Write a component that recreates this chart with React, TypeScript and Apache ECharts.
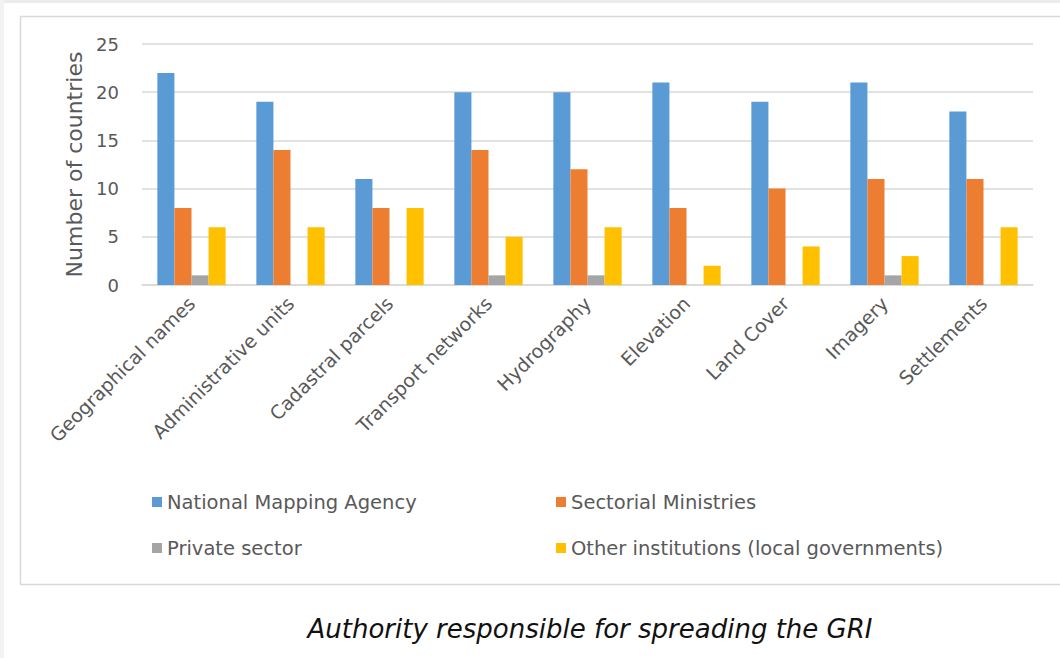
import React, { useEffect, useRef } from "react";
import * as echarts from "echarts";

const categories = [
  "Geographical names",
  "Administrative units",
  "Cadastral parcels",
  "Transport networks",
  "Hydrography",
  "Elevation",
  "Land Cover",
  "Imagery",
  "Settlements",
];
const nationalMapping = [22, 19, 11, 20, 20, 21, 19, 21, 18];
const sectorialMinistries = [8, 14, 8, 14, 12, 8, 10, 11, 11];
const privateSector = [1, 0, 0, 1, 1, 0, 0, 1, 0];
const otherInstitutions = [6, 6, 8, 5, 6, 2, 4, 3, 6];
const yTicks = { min: 0, max: 25, interval: 5 };

const FONT = "'DejaVu Sans', 'Open Sans', sans-serif";
const TXT = "#595959";

export default function App() {
  const ref = useRef<HTMLDivElement>(null);
  useEffect(() => {
    if (!ref.current) return;
    const chart = echarts.init(ref.current, null, { renderer: "svg" });
    const mk = (name: string, data: number[], color: string) => ({
      name,
      type: "bar",
      data,
      barGap: "0%",
      barCategoryGap: "31%",
      itemStyle: { color },
    });
    const legendText = { fontSize: 19.5, color: TXT, fontFamily: FONT, lineHeight: 20, padding: [0, 0, 0, 0] };
    chart.setOption({
      animation: false,
      backgroundColor: "#ffffff",
      textStyle: { fontFamily: FONT },
      graphic: [
        { type: "rect", left: 0, top: 0, shape: { width: 1060, height: 3 }, style: { fill: "#ececec" }, silent: true },
        { type: "rect", left: 0, top: 0, shape: { width: 4, height: 658 }, style: { fill: "#f2f2f2" }, silent: true },
        {
          type: "rect",
          x: 20.5,
          y: 16.5,
          shape: { width: 1100, height: 568 },
          style: { fill: "none", stroke: "#d9d9d9", lineWidth: 1.5 },
          silent: true,
        },
        {
          type: "text",
          x: 590,
          y: 629,
          style: {
            text: "Authority responsible for spreading the GRI",
            font: `italic 26px ${FONT}`,
            fill: "#111111",
            align: "center",
            verticalAlign: "middle",
          },
        },
      ],
      grid: { left: 142, right: 27, top: 44, bottom: 373, containLabel: false },
      legend: [
        {
          data: ["National Mapping Agency", "Private sector"],
          orient: "vertical",
          left: 147,
          top: 487,
          itemWidth: 10,
          itemHeight: 10,
          itemGap: 26,
          icon: "rect",
          textStyle: legendText,
        },
        {
          data: ["Sectorial Ministries", "Other institutions (local governments)"],
          orient: "vertical",
          left: 551,
          top: 487,
          itemWidth: 10,
          itemHeight: 10,
          itemGap: 26,
          icon: "rect",
          textStyle: legendText,
        },
      ],
      xAxis: {
        type: "category",
        data: categories,
        axisLine: { show: true, lineStyle: { color: "#d9d9d9", width: 1.5 } },
        axisTick: { show: false },
        axisLabel: { rotate: 45, interval: 0, fontSize: 19, color: TXT, fontFamily: FONT, margin: 15 },
      },
      yAxis: {
        type: "value",
        min: yTicks.min,
        max: yTicks.max,
        interval: yTicks.interval,
        name: "Number of countries",
        nameLocation: "middle",
        nameRotate: 90,
        nameGap: 57,
        nameTextStyle: { fontSize: 22, color: TXT, fontFamily: FONT },
        axisLine: { show: false },
        axisTick: { show: false },
        axisLabel: { fontSize: 18, color: TXT, fontFamily: FONT, margin: 23 },
        splitLine: { lineStyle: { color: "#d9d9d9", width: 1.5 } },
      },
      series: [
        mk("National Mapping Agency", nationalMapping, "#5B9BD5"),
        mk("Sectorial Ministries", sectorialMinistries, "#ED7D31"),
        mk("Private sector", privateSector, "#A5A5A5"),
        mk("Other institutions (local governments)", otherInstitutions, "#FFC000"),
      ],
    });
    return () => chart.dispose();
  }, []);
  return (
    <div
      ref={ref}
      style={{ position: "fixed", left: 0, top: 0, width: 1060, height: 658 }}
    />
  );
}
